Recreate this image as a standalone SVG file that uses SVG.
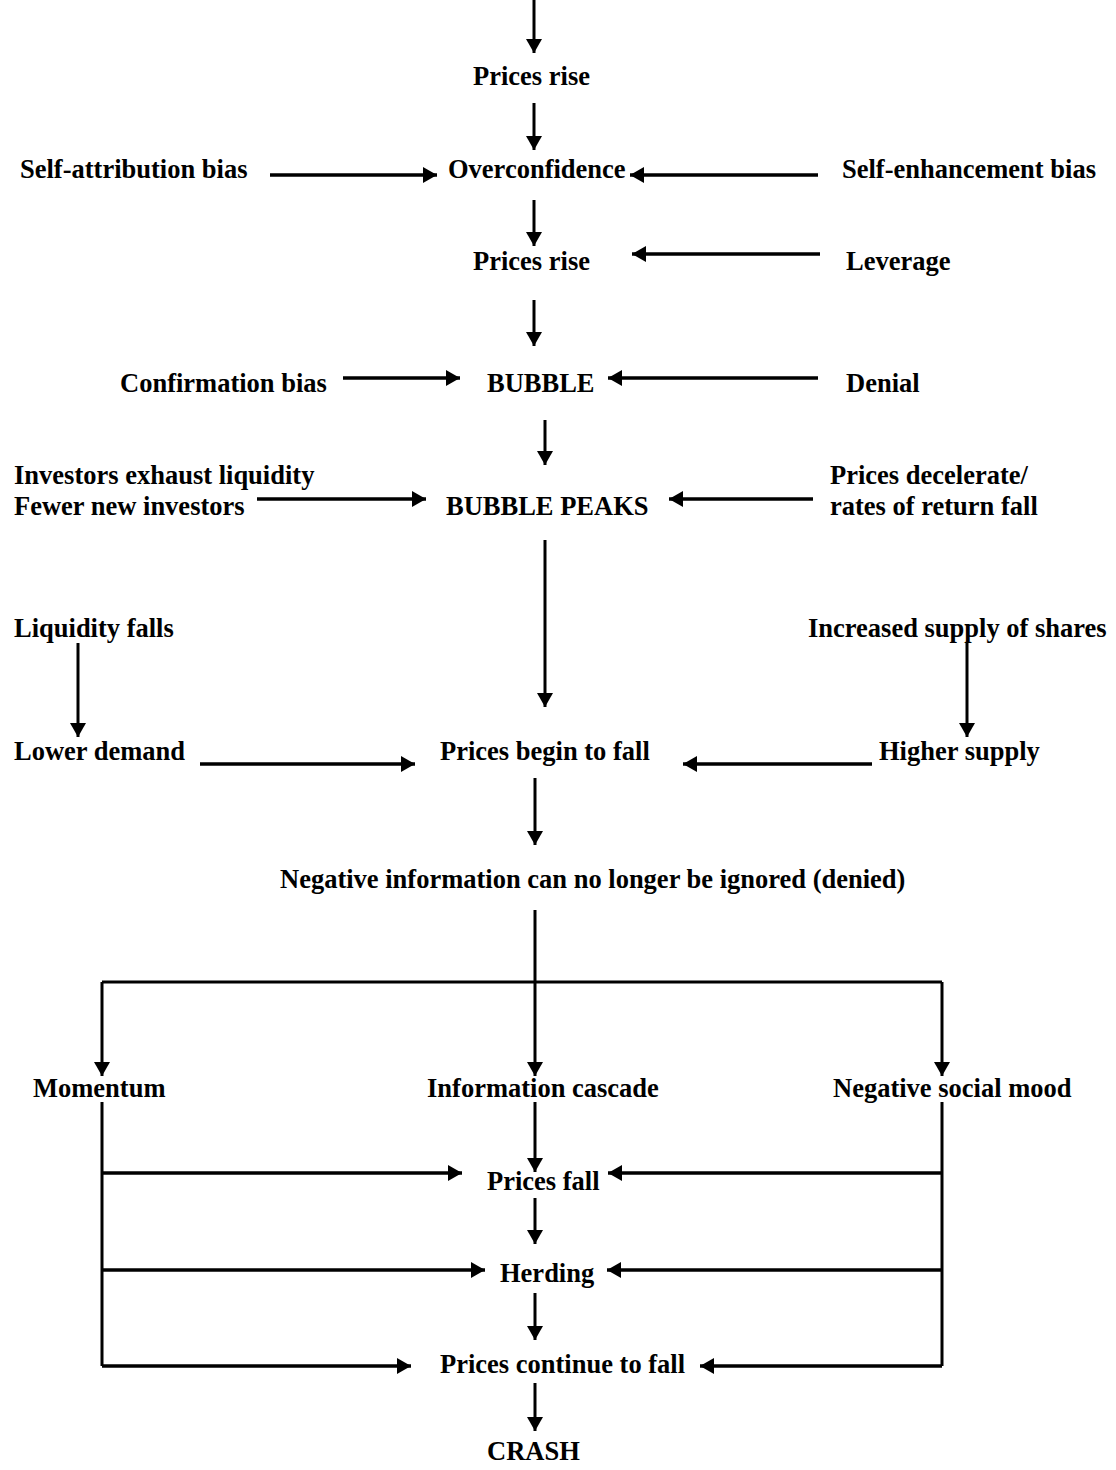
<svg xmlns="http://www.w3.org/2000/svg" width="1116" height="1470" viewBox="0 0 1116 1470">
<style>
text{font-family:"Liberation Serif","Times New Roman",serif;font-weight:bold;font-size:26.5px;fill:#000}
.c{fill:none;stroke:#000;stroke-width:3}
.h{stroke-width:3.5}
</style>
<defs>
<marker id="ah" markerUnits="userSpaceOnUse" markerWidth="15" markerHeight="16" refX="14" refY="8" orient="auto">
<path d="M0,0 L14,8 L0,16 z" fill="#000"/>
</marker>
</defs>
<rect width="1116" height="1470" fill="#fff"/>
<g id="connectors">
<path class="c" d="M534,0 V53" marker-end="url(#ah)"/>
<path class="c" d="M534,103 V150" marker-end="url(#ah)"/>
<path class="c h" d="M270,175 H437" marker-end="url(#ah)"/>
<path class="c h" d="M818,175 H630" marker-end="url(#ah)"/>
<path class="c" d="M534,200 V246" marker-end="url(#ah)"/>
<path class="c h" d="M820,254 H632" marker-end="url(#ah)"/>
<path class="c" d="M534,300 V346" marker-end="url(#ah)"/>
<path class="c h" d="M343,378 H460" marker-end="url(#ah)"/>
<path class="c h" d="M818,378 H608" marker-end="url(#ah)"/>
<path class="c" d="M545,420 V465" marker-end="url(#ah)"/>
<path class="c h" d="M257,499 H426" marker-end="url(#ah)"/>
<path class="c h" d="M813,499 H669" marker-end="url(#ah)"/>
<path class="c" d="M545,540 V707" marker-end="url(#ah)"/>
<path class="c" d="M78,643 V737" marker-end="url(#ah)"/>
<path class="c" d="M967,643 V737" marker-end="url(#ah)"/>
<path class="c h" d="M200,764 H415" marker-end="url(#ah)"/>
<path class="c h" d="M872,764 H683" marker-end="url(#ah)"/>
<path class="c" d="M535,778 V845" marker-end="url(#ah)"/>
<path class="c" d="M535,910 V1076" marker-end="url(#ah)"/>
<path class="c" d="M102,982 H942"/>
<path class="c" d="M102,982 V1076" marker-end="url(#ah)"/>
<path class="c" d="M942,982 V1076" marker-end="url(#ah)"/>
<path class="c" d="M102,1102 V1366"/>
<path class="c" d="M942,1102 V1366"/>
<path class="c" d="M535,1102 V1172" marker-end="url(#ah)"/>
<path class="c h" d="M102,1173 H462" marker-end="url(#ah)"/>
<path class="c h" d="M942,1173 H608" marker-end="url(#ah)"/>
<path class="c" d="M535,1198 V1244" marker-end="url(#ah)"/>
<path class="c h" d="M102,1270 H485" marker-end="url(#ah)"/>
<path class="c h" d="M942,1270 H607" marker-end="url(#ah)"/>
<path class="c" d="M535,1293 V1340" marker-end="url(#ah)"/>
<path class="c h" d="M102,1366 H411" marker-end="url(#ah)"/>
<path class="c h" d="M942,1366 H700" marker-end="url(#ah)"/>
<path class="c" d="M535,1383 V1431" marker-end="url(#ah)"/>
</g>
<g id="n-prices-rise-1"><text x="473" y="85">Prices rise</text></g>
<g id="n-self-attribution"><text x="20" y="178">Self-attribution bias</text></g>
<g id="n-overconfidence"><text x="448" y="178">Overconfidence</text></g>
<g id="n-self-enhancement"><text x="842" y="178">Self-enhancement bias</text></g>
<g id="n-prices-rise-2"><text x="473" y="270">Prices rise</text></g>
<g id="n-leverage"><text x="846" y="270">Leverage</text></g>
<g id="n-confirmation"><text x="120" y="392">Confirmation bias</text></g>
<g id="n-bubble"><text x="487" y="392">BUBBLE</text></g>
<g id="n-denial"><text x="846" y="392">Denial</text></g>
<g id="n-investors"><text x="14" y="484">Investors exhaust liquidity</text><text x="14" y="515">Fewer new investors</text></g>
<g id="n-bubble-peaks"><text x="446" y="515">BUBBLE PEAKS</text></g>
<g id="n-decelerate"><text x="830" y="484">Prices decelerate/</text><text x="830" y="515">rates of return fall</text></g>
<g id="n-liquidity-falls"><text x="14" y="637">Liquidity falls</text></g>
<g id="n-increased-supply"><text x="808" y="637">Increased supply of shares</text></g>
<g id="n-lower-demand"><text x="14" y="760">Lower demand</text></g>
<g id="n-prices-begin"><text x="440" y="760">Prices begin to fall</text></g>
<g id="n-higher-supply"><text x="879" y="760">Higher supply</text></g>
<g id="n-negative-info"><text x="280" y="888">Negative information can no longer be ignored (denied)</text></g>
<g id="n-momentum"><text x="33" y="1097">Momentum</text></g>
<g id="n-cascade"><text x="427" y="1097">Information cascade</text></g>
<g id="n-social-mood"><text x="833" y="1097">Negative social mood</text></g>
<g id="n-prices-fall"><text x="487" y="1190">Prices fall</text></g>
<g id="n-herding"><text x="500" y="1282">Herding</text></g>
<g id="n-prices-continue"><text x="440" y="1373">Prices continue to fall</text></g>
<g id="n-crash"><text x="487" y="1460">CRASH</text></g>
</svg>
